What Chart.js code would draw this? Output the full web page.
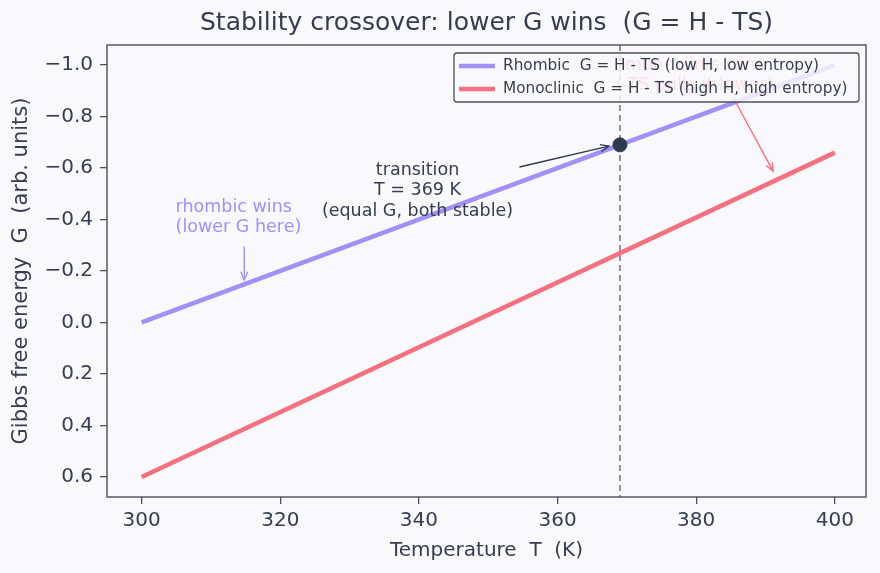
<!DOCTYPE html>
<html>
<head>
<meta charset="utf-8">
<script src="https://cdn.jsdelivr.net/npm/chart.js@4/dist/chart.umd.min.js"></script>
<style>
  html, body { margin: 0; padding: 0; background: #f9f9fd; }
  #wrap { width: 880px; height: 573px; }
</style>
</head>
<body>
<div id="wrap"><canvas id="chart" width="880" height="573"></canvas></div>
<script>
const temps = [300, 400];
const rhombicG = [0.0, -1.0];
const monoclinicG = [0.6, -0.66];
const transitionT = 369;
const transitionG = -0.69;
const xTicks = [300, 320, 340, 360, 380, 400];
const yTicks = [-1.0, -0.8, -0.6, -0.4, -0.2, 0.0, 0.2, 0.4, 0.6];

const titleText = 'Stability crossover: lower G wins  (G = H - TS)';
const seriesNames = [
  'Rhombic  G = H - TS (low H, low entropy)',
  'Monoclinic  G = H - TS (high H, high entropy)'
];
const seriesColors = ['#a48ff5', '#f4707f'];
const textColor = '#353d4f';
const axisColor = '#4b505c';
const FONT = '"DejaVu Sans", sans-serif';

const toPoints = (xs, ys) => xs.map((x, i) => ({ x: x, y: ys[i] }));

function drawArrow(ctx, x1, y1, x2, y2, color, width) {
  ctx.save();
  ctx.strokeStyle = color;
  ctx.lineWidth = width;
  ctx.beginPath();
  ctx.moveTo(x1, y1);
  ctx.lineTo(x2, y2);
  ctx.stroke();
  const a = Math.atan2(y2 - y1, x2 - x1);
  const h = 9;
  ctx.beginPath();
  ctx.moveTo(x2 - h * Math.cos(a - 0.4), y2 - h * Math.sin(a - 0.4));
  ctx.lineTo(x2, y2);
  ctx.lineTo(x2 - h * Math.cos(a + 0.4), y2 - h * Math.sin(a + 0.4));
  ctx.stroke();
  ctx.restore();
}

// dashed transition line under the data, text + arrows over it
const annotations = {
  id: 'annotations',
  beforeDatasetsDraw(chart) {
    const { ctx, chartArea, scales: { x } } = chart;
    const px = x.getPixelForValue(transitionT);
    ctx.save();
    ctx.strokeStyle = '#6f7c86';
    ctx.lineWidth = 1.6;
    ctx.setLineDash([6, 4]);
    ctx.beginPath();
    ctx.moveTo(px, chartArea.top);
    ctx.lineTo(px, chartArea.bottom);
    ctx.stroke();
    ctx.restore();
  },
  afterDatasetsDraw(chart) {
    const { ctx, scales: { x, y } } = chart;
    ctx.save();
    ctx.font = '17.5px ' + FONT;
    ctx.textBaseline = 'middle';

    // transition label
    ctx.fillStyle = textColor;
    ctx.textAlign = 'center';
    const tx = x.getPixelForValue(339.8);
    const ty = y.getPixelForValue(-0.592);
    ['transition', 'T = 369 K', '(equal G, both stable)'].forEach((s, i) => {
      ctx.fillText(s, tx, ty + i * 20.5);
    });
    drawArrow(ctx, x.getPixelForValue(354.5), y.getPixelForValue(-0.604),
      x.getPixelForValue(367.4), y.getPixelForValue(-0.685), '#2f3a4f', 1.4);

    // rhombic label
    ctx.fillStyle = seriesColors[0];
    ctx.textAlign = 'left';
    const rx = x.getPixelForValue(304.9);
    const ry = y.getPixelForValue(-0.445);
    ['rhombic wins', '(lower G here)'].forEach((s, i) => {
      ctx.fillText(s, rx, ry + i * 20);
    });
    drawArrow(ctx, x.getPixelForValue(314.8), y.getPixelForValue(-0.295),
      x.getPixelForValue(314.8), y.getPixelForValue(-0.165), seriesColors[0], 1.4);

    // monoclinic label (mostly hidden behind the legend)
    ctx.fillStyle = seriesColors[1];
    ctx.textAlign = 'center';
    const mx = x.getPixelForValue(379.8);
    const my = y.getPixelForValue(-1.0);
    ['monoclinic wins', '(-TS pulls it lower)'].forEach((s, i) => {
      ctx.fillText(s, mx, my + i * 20);
    });
    drawArrow(ctx, x.getPixelForValue(385.3), y.getPixelForValue(-0.876),
      x.getPixelForValue(391.1), y.getPixelForValue(-0.588), seriesColors[1], 1.4);
    ctx.restore();
  }
};

// title centred over the plot area
const plotTitle = {
  id: 'plotTitle',
  afterDraw(chart) {
    const { ctx, chartArea: a } = chart;
    ctx.save();
    ctx.font = '25px ' + FONT;
    ctx.fillStyle = textColor;
    ctx.textAlign = 'center';
    ctx.textBaseline = 'middle';
    ctx.fillText(titleText, (a.left + a.right) / 2, 23);
    ctx.restore();
  }
};

// legend box in upper right of the plot area
const boxLegend = {
  id: 'boxLegend',
  afterDraw(chart) {
    const { ctx, chartArea } = chart;
    ctx.save();
    ctx.font = '15.3px ' + FONT;
    const w = 405, h = 49;
    const bx = chartArea.right - w - 7;
    const by = chartArea.top + 8;
    ctx.fillStyle = 'rgba(249,249,253,0.82)';
    ctx.strokeStyle = axisColor;
    ctx.lineWidth = 1.3;
    ctx.beginPath();
    ctx.roundRect(bx, by, w, h, 3);
    ctx.fill();
    ctx.stroke();
    seriesNames.forEach((name, i) => {
      const ly = by + 13 + i * 23;
      ctx.strokeStyle = seriesColors[i];
      ctx.lineWidth = 4.5;
      ctx.beginPath();
      ctx.moveTo(bx + 5, ly);
      ctx.lineTo(bx + 41, ly);
      ctx.stroke();
      ctx.fillStyle = textColor;
      ctx.textBaseline = 'middle';
      ctx.fillText(name, bx + 49, ly);
    });
    ctx.restore();
  }
};

// frame around the plot area
const frame = {
  id: 'frame',
  afterDatasetsDraw(chart) {
    const { ctx, chartArea: a } = chart;
    ctx.save();
    ctx.strokeStyle = axisColor;
    ctx.lineWidth = 1.4;
    ctx.strokeRect(a.left, a.top, a.right - a.left, a.bottom - a.top);
    ctx.restore();
  }
};

new Chart(document.getElementById('chart'), {
  type: 'line',
  data: {
    datasets: [
      {
        label: seriesNames[0],
        data: toPoints(temps, rhombicG),
        borderColor: seriesColors[0],
        borderWidth: 4.5,
        pointRadius: 0,
        order: 2
      },
      {
        label: seriesNames[1],
        data: toPoints(temps, monoclinicG),
        borderColor: seriesColors[1],
        borderWidth: 4.5,
        pointRadius: 0,
        order: 2
      },
      {
        type: 'scatter',
        label: 'transition',
        data: [{ x: transitionT, y: transitionG }],
        backgroundColor: '#2f3a4f',
        borderColor: '#2f3a4f',
        pointRadius: 7,
        order: 1
      }
    ]
  },
  options: {
    responsive: false,
    animation: false,
    layout: { padding: { left: 0, right: 14, top: 45, bottom: 0 } },
    plugins: {
      legend: { display: false },
      tooltip: { enabled: false },
      title: { display: false }
    },
    scales: {
      x: {
        type: 'linear',
        min: 295,
        max: 404.5,
        afterBuildTicks: (axis) => { axis.ticks = xTicks.map(v => ({ value: v })); },
        afterFit: (axis) => { axis.height = 76; },
        grid: { display: true, drawOnChartArea: false, drawTicks: true, tickLength: 7, color: axisColor, lineWidth: 1.3 },
        border: { display: false },
        ticks: { color: textColor, font: { family: FONT, size: 20 }, padding: 5 },
        title: {
          display: true,
          text: 'Temperature  T  (K)',
          color: textColor,
          font: { family: FONT, size: 20 },
          padding: { top: 0, bottom: 10 }
        }
      },
      y: {
        type: 'linear',
        reverse: true,
        min: -1.078,
        max: 0.678,
        afterBuildTicks: (axis) => { axis.ticks = yTicks.map(v => ({ value: v })); },
        afterFit: (axis) => { axis.width = 107; },
        grid: { display: true, drawOnChartArea: false, drawTicks: true, tickLength: 7, color: axisColor, lineWidth: 1.3 },
        border: { display: false },
        ticks: {
          color: textColor,
          font: { family: FONT, size: 20 },
          padding: 7,
          callback: (v) => (v < 0 ? '\u2212' + Math.abs(v).toFixed(1) : v.toFixed(1))
        },
        title: {
          display: true,
          text: 'Gibbs free energy  G  (arb. units)',
          color: textColor,
          font: { family: FONT, size: 21 },
          padding: { top: 9, bottom: 0 }
        }
      }
    }
  },
  plugins: [annotations, frame, plotTitle, boxLegend]
});
</script>
</body>
</html>
